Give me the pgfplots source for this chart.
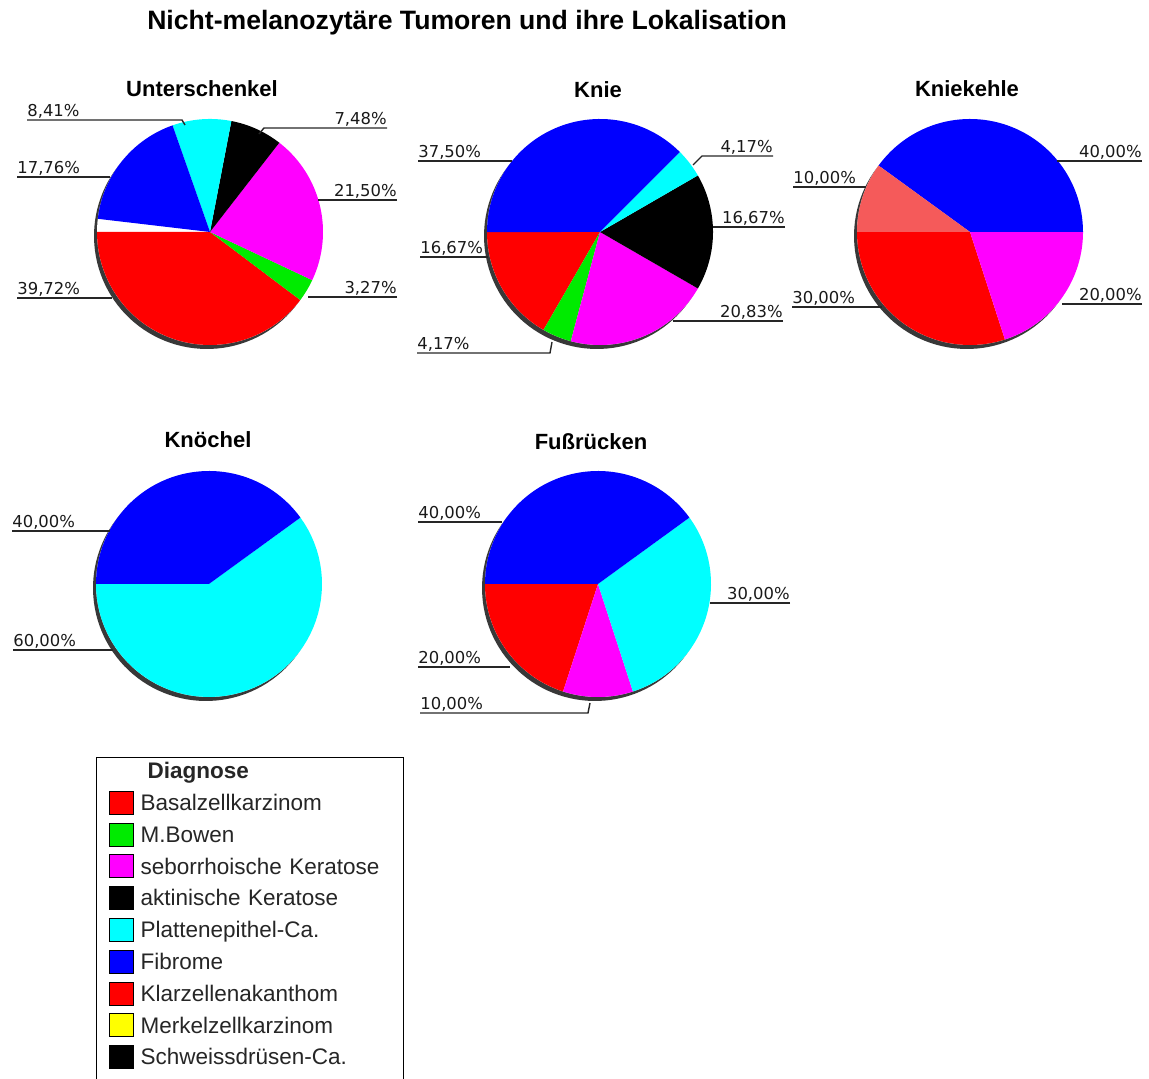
\documentclass[border=0pt]{standalone}
\usepackage{pgfplots}
\pgfplotsset{compat=1.18}
\usepackage{fontspec}
\setmainfont{Liberation Sans}
\newfontfamily\lblfont{DejaVu Sans}

\definecolor{pred}{RGB}{255,0,0}
\definecolor{pgreen}{RGB}{0,235,0}
\definecolor{pmag}{RGB}{255,0,255}
\definecolor{pblack}{RGB}{0,0,0}
\definecolor{pcyan}{RGB}{0,255,255}
\definecolor{pblue}{RGB}{0,0,255}
\definecolor{plred}{RGB}{245,90,90}
\definecolor{pyellow}{RGB}{255,255,0}

% slice: centre x, centre y, colour, start (percent), value (percent); radius 113
\newcommand{\slice}[5]{\addplot[forget plot, fill=#3, draw=none, domain={-180+3.6*(#4)}:{-180+3.6*(#4+#5)}, samples=60] ({#1+113*cos(x)}, {#2+113*sin(x)}) -- (axis cs:#1,#2) -- cycle;}
% shadow under the pie and a white base disk
\newcommand{\disk}[2]{%
  \addplot[forget plot, fill=black!78, draw=none, domain=0:360, samples=120] ({#1-3+113*cos(x)}, {#2-4+113*sin(x)}) -- cycle;
  \addplot[forget plot, fill=white, draw=none, domain=0:360, samples=120] ({#1+113*cos(x)}, {#2+113*sin(x)}) -- cycle;}

\tikzset{
  lbl/.style={font=\lblfont\fontsize{8.2}{10}\selectfont, inner sep=0pt, text=black!90},
  ldr/.style={line width=0.7pt, draw=black!85},
  ptitle/.style={font=\bfseries\fontsize{11}{13}\selectfont, anchor=base, inner sep=0pt},
}

\begin{document}
\begin{tikzpicture}
\begin{axis}[hide axis, scale only axis, width=574.5pt, height=539.5pt,
  xmin=0, xmax=1149, ymin=0, ymax=1079, clip=false, at={(0,0)}, anchor=south west,
  legend cell align=left,
  legend image code/.code={\draw[#1, draw=black, line width=0.4pt] (0pt,-4.45pt) rectangle (12pt,7.05pt);},
  legend style={at={(axis description cs:0.083551,0.298424)}, anchor=north west, draw=black, line width=0.6pt, fill=white,
    inner xsep=6pt, inner ysep=0pt, column sep=3.6pt, row sep=0pt,
    font=\fontsize{11.25}{13}\selectfont, text=black!85,
    nodes={text width=125.4pt, text height=8.2pt, text depth=3pt, inner xsep=0pt, inner ysep=2.35pt}}]

\node[font=\bfseries\fontsize{13.3}{15}\selectfont, anchor=base, inner sep=0pt] at (axis cs:467,1049) {Nicht-melanozytäre Tumoren und ihre Lokalisation};

% ---------- Unterschenkel ----------
\node[ptitle] at (axis cs:202,982) {Unterschenkel};
\disk{210}{847}
\slice{210}{847}{pred}{0}{39.72}
\slice{210}{847}{pgreen}{39.72}{3.27}
\slice{210}{847}{pmag}{42.99}{21.50}
\slice{210}{847}{pblack}{64.49}{7.48}
\slice{210}{847}{pcyan}{71.97}{8.41}
\slice{210}{847}{pblue}{80.38}{17.76}
\node[lbl, anchor=base west] at (axis cs:27,962) {8,41\%};
\draw[ldr] (axis cs:27,959) -- (axis cs:182,959) -- (axis cs:185,954);
\node[lbl, anchor=base east] at (axis cs:387,954) {7,48\%};
\draw[ldr] (axis cs:387,951) -- (axis cs:264,951) -- (axis cs:259,945);
\node[lbl, anchor=base west] at (axis cs:17,905) {17,76\%};
\draw[ldr] (axis cs:17,902) -- (axis cs:110,902);
\node[lbl, anchor=base east] at (axis cs:397,882) {21,50\%};
\draw[ldr] (axis cs:397,879) -- (axis cs:318,879);
\node[lbl, anchor=base west] at (axis cs:17,784) {39,72\%};
\draw[ldr] (axis cs:17,781) -- (axis cs:112,781);
\node[lbl, anchor=base east] at (axis cs:397,785) {3,27\%};
\draw[ldr] (axis cs:397,782) -- (axis cs:308,782);

% ---------- Knie ----------
\node[ptitle] at (axis cs:598,981) {Knie};
\disk{600}{847}
\slice{600}{847}{pred}{0}{16.67}
\slice{600}{847}{pgreen}{16.67}{4.17}
\slice{600}{847}{pmag}{20.84}{20.83}
\slice{600}{847}{pblack}{41.67}{16.67}
\slice{600}{847}{pcyan}{58.34}{4.17}
\slice{600}{847}{pblue}{62.51}{37.50}
\node[lbl, anchor=base west] at (axis cs:418,921) {37,50\%};
\draw[ldr] (axis cs:418,918) -- (axis cs:512,918);
\node[lbl, anchor=base east] at (axis cs:773,926) {4,17\%};
\draw[ldr] (axis cs:773,923) -- (axis cs:702,923) -- (axis cs:693,914);
\node[lbl, anchor=base east] at (axis cs:785,855) {16,67\%};
\draw[ldr] (axis cs:785,852) -- (axis cs:713,852);
\node[lbl, anchor=base west] at (axis cs:420,825) {16,67\%};
\draw[ldr] (axis cs:420,822) -- (axis cs:488,822);
\node[lbl, anchor=base east] at (axis cs:783,761) {20,83\%};
\draw[ldr] (axis cs:783,758) -- (axis cs:673,758);
\node[lbl, anchor=base west] at (axis cs:417,729) {4,17\%};
\draw[ldr] (axis cs:417,726) -- (axis cs:550,726) -- (axis cs:552,737);

% ---------- Kniekehle ----------
\node[ptitle] at (axis cs:967,982) {Kniekehle};
\disk{970}{847}
\slice{970}{847}{pred}{0}{30.00}
\slice{970}{847}{pmag}{30.00}{20.00}
\slice{970}{847}{pblue}{50.00}{40.00}
\slice{970}{847}{plred}{90.00}{10.00}
\node[lbl, anchor=base east] at (axis cs:1142,921) {40,00\%};
\draw[ldr] (axis cs:1142,918) -- (axis cs:1057,918);
\node[lbl, anchor=base west] at (axis cs:793,895) {10,00\%};
\draw[ldr] (axis cs:793,892) -- (axis cs:866,892);
\node[lbl, anchor=base west] at (axis cs:792,775) {30,00\%};
\draw[ldr] (axis cs:792,772) -- (axis cs:882,772);
\node[lbl, anchor=base east] at (axis cs:1142,778) {20,00\%};
\draw[ldr] (axis cs:1142,775) -- (axis cs:1062,775);

% ---------- Knoechel ----------
\node[ptitle] at (axis cs:208,631) {Knöchel};
\disk{209}{495}
\slice{209}{495}{pcyan}{0}{60.00}
\slice{209}{495}{pblue}{60.00}{40.00}
\node[lbl, anchor=base west] at (axis cs:12,551) {40,00\%};
\draw[ldr] (axis cs:12,548) -- (axis cs:110,548);
\node[lbl, anchor=base west] at (axis cs:13,432) {60,00\%};
\draw[ldr] (axis cs:13,429) -- (axis cs:113,429);

% ---------- Fussruecken ----------
\node[ptitle] at (axis cs:591,629) {Fußrücken};
\disk{598}{495}
\slice{598}{495}{pred}{0}{20.00}
\slice{598}{495}{pmag}{20.00}{10.00}
\slice{598}{495}{pcyan}{30.00}{30.00}
\slice{598}{495}{pblue}{60.00}{40.00}
\node[lbl, anchor=base west] at (axis cs:418,560) {40,00\%};
\draw[ldr] (axis cs:418,557) -- (axis cs:502,557);
\node[lbl, anchor=base east] at (axis cs:790,479) {30,00\%};
\draw[ldr] (axis cs:790,476) -- (axis cs:710,476);
\node[lbl, anchor=base west] at (axis cs:418,415) {20,00\%};
\draw[ldr] (axis cs:418,412) -- (axis cs:510,412);
\node[lbl, anchor=base west] at (axis cs:420,369) {10,00\%};
\draw[ldr] (axis cs:420,366) -- (axis cs:588,366) -- (axis cs:590,376);

% ---------- Legend ----------
\addlegendimage{empty legend}\addlegendentry{\hspace*{3.5pt}\textbf{Diagnose}}
\addlegendimage{fill=pred}\addlegendentry{Basalzellkarzinom}
\addlegendimage{fill=pgreen}\addlegendentry{M.Bowen}
\addlegendimage{fill=pmag}\addlegendentry{seborrhoische Keratose}
\addlegendimage{fill=pblack}\addlegendentry{aktinische Keratose}
\addlegendimage{fill=pcyan}\addlegendentry{Plattenepithel-Ca.}
\addlegendimage{fill=pblue}\addlegendentry{Fibrome}
\addlegendimage{fill=pred}\addlegendentry{Klarzellenakanthom}
\addlegendimage{fill=pyellow}\addlegendentry{Merkelzellkarzinom}
\addlegendimage{fill=pblack}\addlegendentry{Schweissdrüsen-Ca.}
\addlegendimage{empty legend}\addlegendentry{}
\end{axis}
\pgfresetboundingbox
\useasboundingbox (current axis.south west) rectangle (current axis.north east);
\end{tikzpicture}
\end{document}
